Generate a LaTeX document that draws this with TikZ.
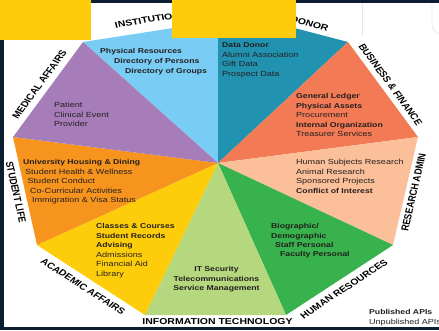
\documentclass[tikz,border=0pt]{standalone}
\usepackage{fontspec}
\usepackage{graphicx}
\setmainfont{Liberation Sans}
\newfontfamily\widefont{Liberation Sans}[FakeStretch=1.22]
\definecolor{navy}{HTML}{0B1C33}
\definecolor{cinst}{HTML}{79CDF4}
\definecolor{cdonor}{HTML}{2193B0}
\definecolor{cbf}{HTML}{F27A55}
\definecolor{cres}{HTML}{FBBF99}
\definecolor{chr}{HTML}{37B24D}
\definecolor{cit}{HTML}{B5D77E}
\definecolor{cacad}{HTML}{FDCD0C}
\definecolor{cstud}{HTML}{F6941E}
\definecolor{cmed}{HTML}{A77DB9}
\definecolor{cbox}{HTML}{FECC0A}
\definecolor{txt}{HTML}{231F20}
\definecolor{faint}{HTML}{E4E6EA}
\begin{document}
\begin{tikzpicture}[x=1pt,y=-1pt,
  tb/.style={font=\widefont\fontsize{7.1}{8}\selectfont\bfseries, text=txt, inner sep=0pt, anchor=west, text height=5.2pt, text depth=0pt},
  tr/.style={font=\widefont\fontsize{7.4}{8}\selectfont, text=txt, inner sep=0pt, anchor=west, text height=5.3pt, text depth=0pt},
  tc/.style={tb, anchor=center},
  lab/.style={font=\fontsize{8.6}{9}\selectfont\bfseries, text=black, inner sep=0pt, anchor=center}]
\useasboundingbox (0,0) rectangle (439,330);
\fill[white] (0,0) rectangle (439,330);
% frame
\fill[navy] (0,0) rectangle (439,3);
\fill[navy] (0,0) rectangle (4,330);
\fill[navy] (0,326.5) rectangle (439,330);
\draw[faint, line width=0.7pt] (362,3) -- (362,36);
\draw[faint, line width=0.7pt, rounded corners=5pt] (432,3) -- (432,30) -- (439,34);
% geometry
\coordinate (C) at (218,163);
\coordinate (T1) at (218,21);
\coordinate (T2) at (218,8);
\coordinate (V1) at (348,42);
\coordinate (V2) at (418,137);
\coordinate (V3) at (393,245);
\coordinate (V4) at (286,315);
\coordinate (V5) at (145,315);
\coordinate (V6) at (37,245);
\coordinate (V7) at (13,137);
\coordinate (V8) at (83,42);
% sectors
\fill[cinst] (C) -- (V8) -- (T1) -- cycle;
\fill[cdonor] (C) -- (T2) -- (V1) -- cycle;
\fill[cbf] (C) -- (V1) -- (V2) -- cycle;
\fill[cres] (C) -- (V2) -- (V3) -- cycle;
\fill[chr] (C) -- (V3) -- (V4) -- cycle;
\fill[cit] (C) -- (V4) -- (V5) -- cycle;
\fill[cacad] (C) -- (V5) -- (V6) -- cycle;
\fill[cstud] (C) -- (V6) -- (V7) -- cycle;
\fill[cmed] (C) -- (V7) -- (V8) -- cycle;
% outer labels
\node[lab] (linst) at (147.4,20) {\scalebox{1.22}[1]{\rotatebox{10.9}{INSTITUTION}}};
\node[lab] (ldonor) at (309.5,24) {\scalebox{1.22}[1]{\rotatebox{-17.6}{DONOR}}};
\node[lab] (lbf) at (390.5,84.5) {\scalebox{1.22}[1]{\rotatebox{-58.9}{BUSINESS \& FINANCE}}};
\node[lab] (lres) at (413.5,192.5) {\scalebox{1.22}[1]{\rotatebox{79.3}{RESEARCH ADMIN}}};
\node[lab] (lhr) at (344,289) {\scalebox{1.22}[1]{\rotatebox{38.6}{HUMAN RESOURCES}}};
\node[lab] (lit) at (217.5,321.5) {\scalebox{1.22}[1]{INFORMATION TECHNOLOGY}};
\node[lab] (lacad) at (83,286.5) {\scalebox{1.22}[1]{\rotatebox{-38.3}{ACADEMIC AFFAIRS}}};
\node[lab] (lstud) at (16,192) {\scalebox{1.22}[1]{\rotatebox{-79.7}{STUDENT LIFE}}};
\node[lab] (lmed) at (39.5,84.5) {\scalebox{1.22}[1]{\rotatebox{58.9}{MEDICAL AFFAIRS}}};
% institution
\node[tb] (i1) at (100,51) {Physical Resources};
\node[tb] (i2) at (114,61) {Directory of Persons};
\node[tb] (i3) at (125,70.5) {Directory of Groups};
% donor
\node[tb] (d1) at (222,45) {Data Donor};
\node[tr] (d2) at (222,54.5) {Alumni Association};
\node[tr] (d3) at (222,64) {Gift Data};
\node[tr] (d4) at (222,73.5) {Prospect Data};
% business & finance
\node[tb] (b1) at (296,96) {General Ledger};
\node[tb] (b2) at (296,105.5) {Physical Assets};
\node[tr] (b3) at (296,115) {Procurement};
\node[tb] (b4) at (296,124.5) {Internal Organization};
\node[tr] (b5) at (296,134) {Treasurer Services};
% research admin
\node[tr] (r1) at (296,162) {Human Subjects Research};
\node[tr] (r2) at (296,171.5) {Animal Research};
\node[tr] (r3) at (296,181) {Sponsored Projects};
\node[tb] (r4) at (296,190.5) {Conflict of Interest};
% medical
\node[tr] (m1) at (54,105) {Patient};
\node[tr] (m2) at (54,114.5) {Clinical Event};
\node[tr] (m3) at (54,124) {Provider};
% student life
\node[tb] (s1) at (23,162) {University Housing \& Dining};
\node[tr] (s2) at (25,171.5) {Student Health \& Wellness};
\node[tr] (s3) at (27.5,181) {Student Conduct};
\node[tr] (s4) at (30,190.5) {Co-Curricular Activities};
\node[tr] (s5) at (32,200) {Immigration \& Visa Status};
% academic
\node[tb] (a1) at (96,226) {Classes \& Courses};
\node[tb] (a2) at (96,235.5) {Student Records};
\node[tb] (a3) at (96,245) {Advising};
\node[tr] (a4) at (96,254.5) {Admissions};
\node[tr] (a5) at (96,264) {Financial Aid};
\node[tr] (a6) at (96,273.5) {Library};
% IT
\node[tc] (t1) at (216.5,269) {IT Security};
\node[tc] (t2) at (216.5,278.5) {Telecommunications};
\node[tc] (t3) at (216.5,288) {Service Management};
% HR
\node[tb] (h1) at (271,226) {Biographic/};
\node[tb] (h2) at (271,235.5) {Demographic};
\node[tb] (h3) at (275,245) {Staff Personal};
\node[tb] (h4) at (280,254) {Faculty Personal};
% legend
\node[tb] (p1) at (369,312) {Published APIs};
\node[tr] (p2) at (369,322) {Unpublished APIs};
% yellow boxes
\fill[cbox] (0,0) rectangle (90.5,40);
\fill[cbox] (172,0) rectangle (295.5,38);
\end{tikzpicture}
\end{document}
